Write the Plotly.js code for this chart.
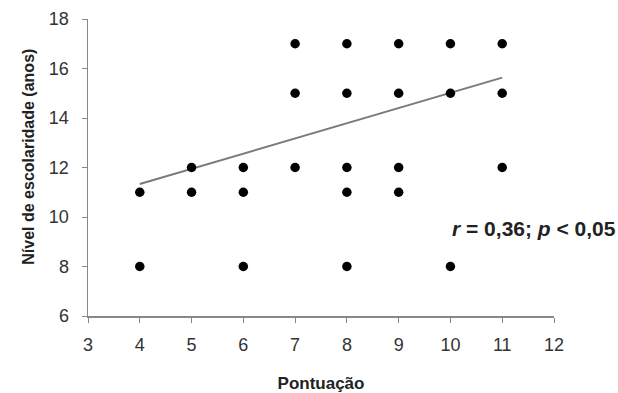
<!DOCTYPE html>
<html><head><meta charset="utf-8">
<script src="https://cdn.plot.ly/plotly-3.0.1.min.js"></script>
<style>html,body{margin:0;padding:0;background:#fff;}#chart{width:618px;height:393px;}</style>
</head><body><div id="chart"></div>
<script>
const scoreX = [4,4, 5,5, 6,6,6, 7,7,7, 8,8,8,8,8, 9,9,9,9, 10,10,10, 11,11,11];
const schoolingY = [11,8, 12,11, 12,11,8, 17,15,12, 17,15,12,11,8, 17,15,12,11, 17,15,8, 17,15,12];
const trendX = [4, 11];
const trendY = [11.33, 15.63];
const xTicks = [3,4,5,6,7,8,9,10,11,12];
const yTicks = [6,8,10,12,14,16,18];

const FAM = 'Liberation Sans, Arial, sans-serif';
const traces = [
  {x: trendX, y: trendY, mode: 'lines', type: 'scatter', line: {color: '#7a7a7a', width: 2}, hoverinfo: 'skip'},
  {x: scoreX, y: schoolingY, mode: 'markers', type: 'scatter', marker: {color: '#000', size: 9.5}}
];
const axisFont = {family: FAM, size: 18, color: '#333'};
const layout = {
  width: 618, height: 393,
  margin: {l: 88, r: 64, t: 19, b: 77},
  paper_bgcolor: '#fff', plot_bgcolor: '#fff',
  showlegend: false,
  xaxis: {range: [3, 12], tickvals: xTicks, ticktext: xTicks.map(String), showgrid: false, zeroline: false,
    showline: true, linecolor: '#888', linewidth: 1.5, ticks: 'outside', ticklen: 5, tickcolor: '#888',
    tickfont: axisFont, ticklabelstandoff: 7,
    title: {text: '<b>Pontuação</b>', font: {family: FAM, size: 17, color: '#222'}, standoff: 26}},
  yaxis: {range: [6, 18], tickvals: yTicks, ticktext: yTicks.map(String), showgrid: false, zeroline: false,
    showline: true, linecolor: '#888', linewidth: 1.5, ticks: 'outside', ticklen: 5, tickcolor: '#888',
    tickfont: axisFont, ticklabelstandoff: 9},
  annotations: [
    {xref: 'x', yref: 'y', x: 11.62, y: 9.55, showarrow: false,
     text: '<b><i>r</i> = 0,36; <i>p</i> &lt; 0,05</b>',
     font: {family: FAM, size: 21, color: '#222'}},
    {xref: 'paper', yref: 'paper', x: -0.150, y: 0.535, showarrow: false, textangle: -90,
     text: '<b>Nível de escolaridade (anos)</b>',
     font: {family: FAM, size: 16, color: '#222'}}
  ]
};
Plotly.newPlot('chart', traces, layout, {displayModeBar: false, staticPlot: true});
</script></body></html>
